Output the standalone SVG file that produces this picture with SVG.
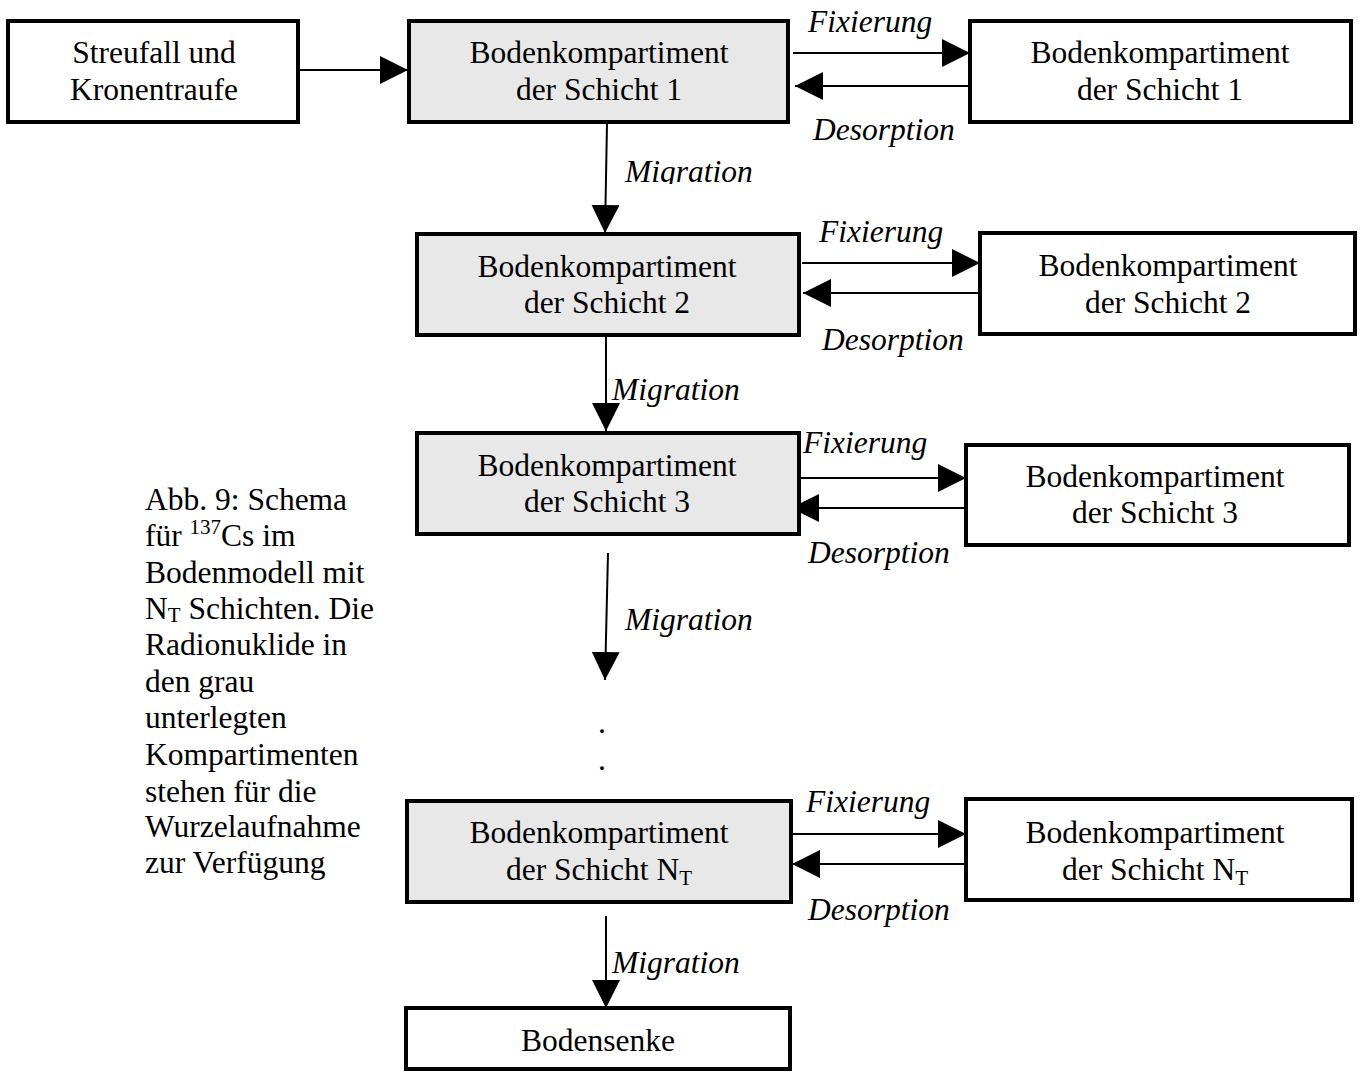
<svg xmlns="http://www.w3.org/2000/svg" width="1364" height="1072" viewBox="0 0 1364 1072">
<defs>
<style>
.box{fill:#fff;stroke:#000;stroke-width:4}
.gray{fill:#e8e8e8;stroke:#000;stroke-width:4}
.t{font-family:"Liberation Serif","Times New Roman",serif;font-size:31.5px;fill:#000}
.c{text-anchor:middle}
.i{font-style:italic}
.ln{stroke:#000;stroke-width:2;fill:none}
</style>
<marker id="ah" viewBox="0 0 28 28" refX="28" refY="14" markerWidth="28" markerHeight="28" markerUnits="userSpaceOnUse" orient="auto">
<path d="M0,0 L28,14 L0,28 Z" fill="#000"/>
</marker>
<clipPath id="clipM1"><rect x="600" y="140" width="200" height="44"/></clipPath>
</defs>
<rect width="1364" height="1072" fill="#fff"/>

<g id="connectors">
<line class="ln" x1="300" y1="70" x2="408" y2="70" marker-end="url(#ah)"/>
<line class="ln" x1="793" y1="53" x2="970" y2="53" marker-end="url(#ah)"/>
<line class="ln" x1="970" y1="86" x2="795" y2="86" marker-end="url(#ah)"/>
<line class="ln" x1="607" y1="123" x2="605" y2="233" marker-end="url(#ah)"/>
<line class="ln" x1="802" y1="263" x2="980" y2="263" marker-end="url(#ah)"/>
<line class="ln" x1="980" y1="293" x2="803" y2="293" marker-end="url(#ah)"/>
<line class="ln" x1="606" y1="337" x2="606" y2="431" marker-end="url(#ah)"/>
<line class="ln" x1="791" y1="478" x2="966" y2="478" marker-end="url(#ah)"/>
<line class="ln" x1="966" y1="508" x2="791" y2="508" marker-end="url(#ah)"/>
<line class="ln" x1="608" y1="553" x2="605" y2="680" marker-end="url(#ah)"/>
<line class="ln" x1="792" y1="834" x2="966" y2="834" marker-end="url(#ah)"/>
<line class="ln" x1="966" y1="864" x2="792" y2="864" marker-end="url(#ah)"/>
<line class="ln" x1="606" y1="916" x2="606" y2="1008" marker-end="url(#ah)"/>
<text class="t i" x="808" y="32">Fixierung</text>
<text class="t i" x="813" y="140">Desorption</text>
<text class="t i" x="625" y="182" clip-path="url(#clipM1)">Migration</text>
<text class="t i" x="819" y="242">Fixierung</text>
<text class="t i" x="822" y="350">Desorption</text>
<text class="t i" x="612" y="400">Migration</text>
<text class="t i" x="803" y="453">Fixierung</text>
<text class="t i" x="808" y="563">Desorption</text>
<text class="t i" x="625" y="630">Migration</text>
<text class="t i" x="806" y="812">Fixierung</text>
<text class="t i" x="808" y="920">Desorption</text>
<text class="t i" x="612" y="973">Migration</text>
</g>

<g id="n-streufall">
<rect class="box" x="8" y="21" width="290" height="101"/>
<text class="t c" x="154" y="63">Streufall und</text>
<text class="t c" x="154" y="100">Kronentraufe</text>
</g>
<g id="n-g1">
<rect class="gray" x="409" y="21" width="379" height="101"/>
<text class="t c" x="599" y="63">Bodenkompartiment</text>
<text class="t c" x="599" y="100">der Schicht 1</text>
</g>
<g id="n-r1">
<rect class="box" x="970" y="21" width="381" height="101"/>
<text class="t c" x="1160" y="63">Bodenkompartiment</text>
<text class="t c" x="1160" y="100">der Schicht 1</text>
</g>
<g id="n-g2">
<rect class="gray" x="417" y="234" width="382" height="101"/>
<text class="t c" x="607" y="277">Bodenkompartiment</text>
<text class="t c" x="607" y="313">der Schicht 2</text>
</g>
<g id="n-r2">
<rect class="box" x="980" y="233" width="375" height="101"/>
<text class="t c" x="1168" y="276">Bodenkompartiment</text>
<text class="t c" x="1168" y="313">der Schicht 2</text>
</g>
<g id="n-g3">
<rect class="gray" x="417" y="433" width="382" height="101"/>
<text class="t c" x="607" y="476">Bodenkompartiment</text>
<text class="t c" x="607" y="512">der Schicht 3</text>
</g>
<g id="n-r3">
<rect class="box" x="966" y="445" width="383" height="100"/>
<text class="t c" x="1155" y="487">Bodenkompartiment</text>
<text class="t c" x="1155" y="523">der Schicht 3</text>
</g>
<g id="dots">
<text class="t" x="598" y="733">.</text>
<text class="t" x="598" y="770">.</text>
</g>
<g id="n-gNT">
<rect class="gray" x="407" y="801" width="384" height="101"/>
<text class="t c" x="599" y="843">Bodenkompartiment</text>
<text class="t c" x="599" y="880">der Schicht N<tspan font-size="21" dy="5">T</tspan></text>
</g>
<g id="n-rNT">
<rect class="box" x="966" y="799" width="386" height="101"/>
<text class="t c" x="1155" y="843">Bodenkompartiment</text>
<text class="t c" x="1155" y="880">der Schicht N<tspan font-size="21" dy="5">T</tspan></text>
</g>
<g id="n-senke">
<rect class="box" x="406" y="1008" width="384" height="61"/>
<text class="t c" x="598" y="1051">Bodensenke</text>
</g>
<g id="caption">
<text class="t" x="145" y="510">Abb. 9: Schema</text>
<text class="t" x="145" y="546">für <tspan font-size="21" dy="-12">137</tspan><tspan dy="12">Cs im</tspan></text>
<text class="t" x="145" y="583">Bodenmodell mit</text>
<text class="t" x="145" y="619">N<tspan font-size="21" dy="3">T</tspan><tspan dy="-3"> Schichten. Die</tspan></text>
<text class="t" x="145" y="655">Radionuklide in</text>
<text class="t" x="145" y="692">den grau</text>
<text class="t" x="145" y="728">unterlegten</text>
<text class="t" x="145" y="765">Kompartimenten</text>
<text class="t" x="145" y="802">stehen für die</text>
<text class="t" x="145" y="837">Wurzelaufnahme</text>
<text class="t" x="145" y="873">zur Verfügung</text>
</g>
</svg>
